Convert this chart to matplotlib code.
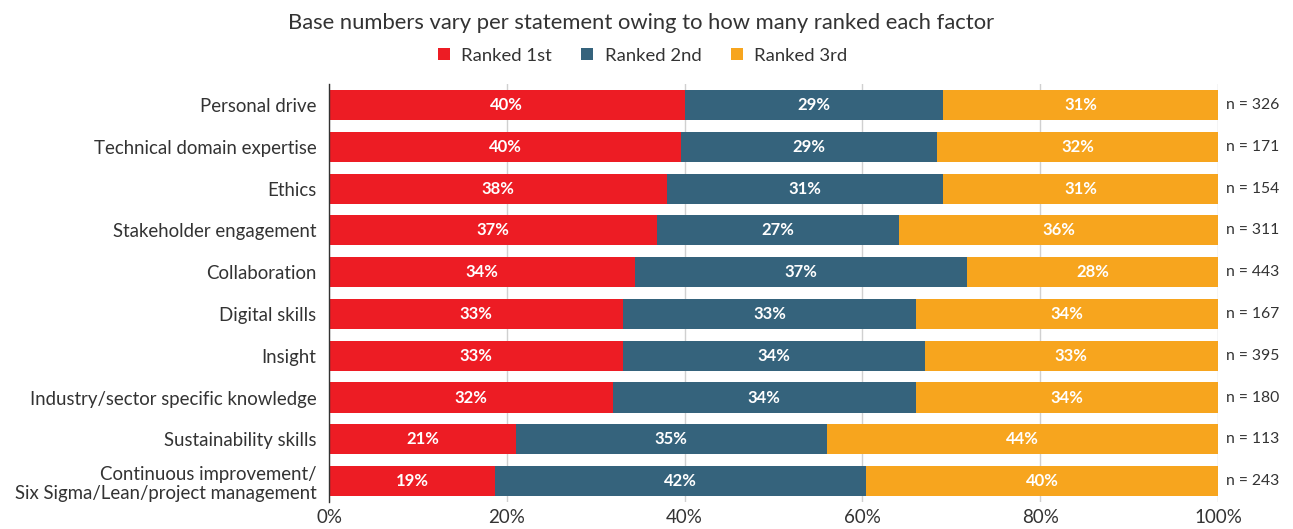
import matplotlib
matplotlib.use("Agg")
import matplotlib.pyplot as plt
from matplotlib.patches import Patch
from matplotlib.ticker import FuncFormatter

plt.rcParams['font.family'] = ['Lato', 'DejaVu Sans']

categories = [
    "Personal drive",
    "Technical domain expertise",
    "Ethics",
    "Stakeholder engagement",
    "Collaboration",
    "Digital skills",
    "Insight",
    "Industry/sector specific knowledge",
    "Sustainability skills",
    "Continuous improvement/\nSix Sigma/Lean/project management",
]
ranked_1st = [40.0, 39.6, 38.0, 36.9, 34.4, 33.1, 33.1, 31.9, 21.0, 18.7]
ranked_2nd = [29.1, 28.8, 31.1, 27.2, 37.4, 32.9, 33.9, 34.1, 35.0, 41.7]
ranked_3rd = [30.9, 31.6, 30.9, 35.9, 28.2, 34.0, 33.0, 34.0, 44.0, 39.6]
labels_1st = ["40%", "40%", "38%", "37%", "34%", "33%", "33%", "32%", "21%", "19%"]
labels_2nd = ["29%", "29%", "31%", "27%", "37%", "33%", "34%", "34%", "35%", "42%"]
labels_3rd = ["31%", "32%", "31%", "36%", "28%", "34%", "33%", "34%", "44%", "40%"]
base_n = [326, 171, 154, 311, 443, 167, 395, 180, 113, 243]
series_names = ["Ranked 1st", "Ranked 2nd", "Ranked 3rd"]
colors = ["#ED1C24", "#35637C", "#F7A51E"]
text_color = "#333333"

fig = plt.figure(figsize=(12.93, 5.29), dpi=100)
ax = fig.add_axes([0.2545, 0.051, 0.942 - 0.2545, 0.79])

y = list(range(len(categories)))
lefts = [0.0] * len(categories)
for vals, labs, col, name in zip([ranked_1st, ranked_2nd, ranked_3rd],
                                  [labels_1st, labels_2nd, labels_3rd],
                                  colors, series_names):
    ax.barh(y, vals, left=lefts, height=0.72, color=col, label=name, zorder=3)
    for i, (v, l, lab) in enumerate(zip(vals, lefts, labs)):
        ax.text(l + v / 2, i, lab, ha="center", va="center", color="white",
                fontsize=12, fontweight="bold", zorder=4)
    lefts = [a + b for a, b in zip(lefts, vals)]

for i, n in enumerate(base_n):
    ax.text(100.9, i, f"n = {n}", ha="left", va="center", color=text_color, fontsize=11.3)

ax.set_xlim(0, 100)
ax.set_ylim(len(categories) - 0.5, -0.5)
ax.set_yticks(y)
ax.set_yticklabels(categories, fontsize=13.4, color=text_color, linespacing=1.2)
ax.set_xticks([0, 20, 40, 60, 80, 100])
ax.xaxis.set_major_formatter(FuncFormatter(lambda v, p: f"{int(v)}%"))
ax.tick_params(axis="x", labelsize=13.5, colors=text_color, length=0, pad=5)
ax.tick_params(axis="y", length=0, pad=9)
ax.grid(axis="x", color="#D0D0D0", linewidth=1, zorder=0)
for s in ["top", "right", "bottom"]:
    ax.spines[s].set_visible(False)
ax.spines["left"].set_color("#333333")
ax.spines["left"].set_linewidth(1)
ax.spines["left"].set_zorder(5)

fig.text(0.496, 0.957, "Base numbers vary per statement owing to how many ranked each factor",
         ha="center", va="center", fontsize=15.8, color=text_color)
handles = [Patch(facecolor=c, label=n) for c, n in zip(colors, series_names)]
fig.legend(handles=handles, loc="center", bbox_to_anchor=(0.497, 0.895), ncol=3,
           frameon=False, fontsize=13.3, handlelength=0.65, handleheight=0.65,
           handletextpad=0.6, columnspacing=1.6, labelcolor=text_color)

fig.savefig("out.png", dpi=100)
